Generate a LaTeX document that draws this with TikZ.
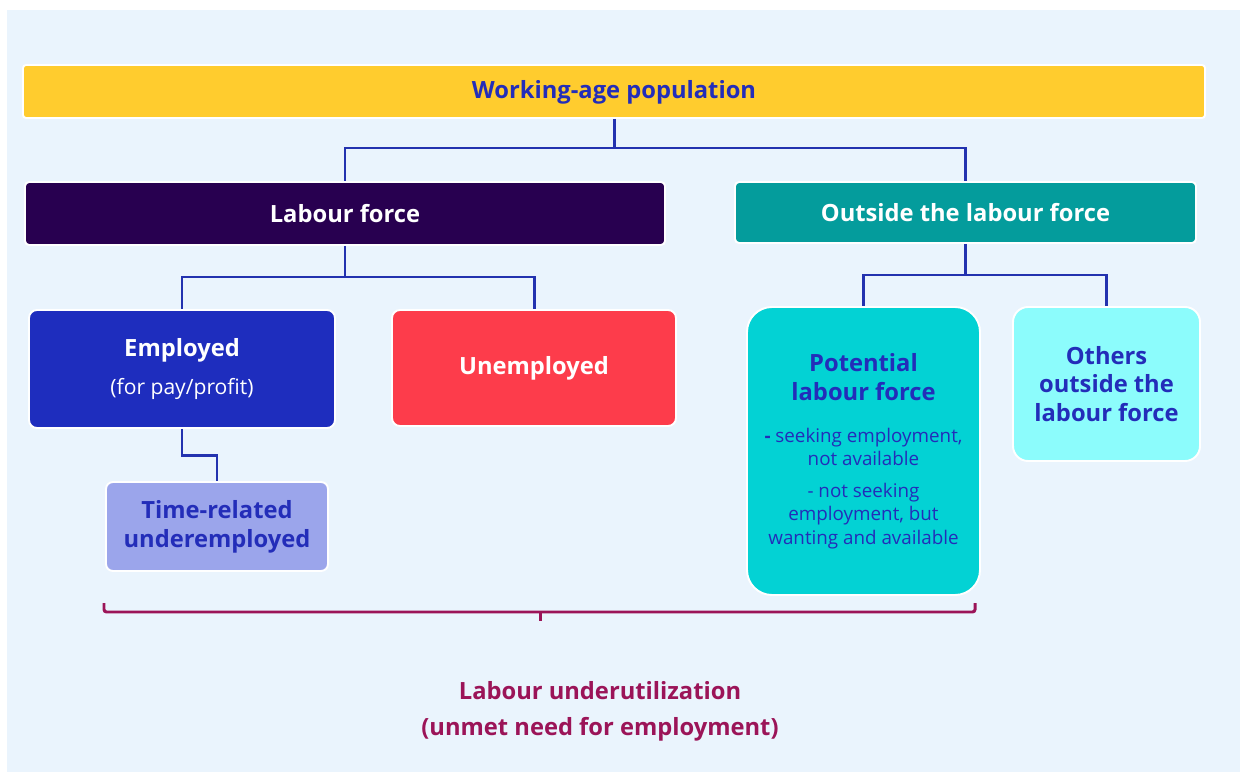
\documentclass[tikz,border=0pt]{standalone}
\usepackage{fontspec}
\setmainfont{Open Sans}
\usetikzlibrary{calc,positioning}
\definecolor{bgblue}{RGB}{234,244,253}
\definecolor{wapyellow}{RGB}{255,204,46}
\definecolor{lfpurple}{RGB}{40,0,80}
\definecolor{olfteal}{RGB}{4,156,156}
\definecolor{empblue}{RGB}{30,45,190}
\definecolor{unred}{RGB}{253,60,75}
\definecolor{plfcyan}{RGB}{3,210,212}
\definecolor{othcyan}{RGB}{140,252,252}
\definecolor{trulilac}{RGB}{155,165,235}
\definecolor{txtblue}{RGB}{35,45,185}
\definecolor{linkblue}{RGB}{35,50,175}
\definecolor{underred}{RGB}{155,20,88}
\def\boldtext{\fontsize{13.5}{16.4}\selectfont\bfseries}
\def\smalltext{\fontsize{10.7}{13.3}\selectfont}

\begin{document}
\begin{tikzpicture}[
	box/.style={draw=white, line width=1.1pt, align=center, inner sep=0pt},
	link/.style={draw=linkblue, line width=1.7pt},
	brace/.style={draw=underred, line width=1.7pt}
	]
			%%%%% START %%%%%
			
			\useasboundingbox (0, 0) rectangle (24.8, -15.48);
			\fill[bgblue] (0.14, -0.2) rectangle (24.8, -15.44);
			
			\node[box, fill=wapyellow, rounded corners=0.06cm, minimum width=23.64cm, minimum height=1.06cm, text=txtblue, font=\boldtext, text depth=0.1cm] (wap) at (12.28, -1.83) {Working-age population};
			
			\node[box, fill=lfpurple, rounded corners=0.08cm, minimum width=12.8cm, minimum height=1.26cm, text=white, font=\boldtext] (lf) at (6.9, -4.27) {Labour force};
			\node[box, fill=olfteal, rounded corners=0.08cm, minimum width=9.22cm, minimum height=1.22cm, text=white, font=\boldtext] (olf) at (19.31, -4.25) {Outside the labour force};
			
			\node[box, fill=empblue, rounded corners=0.16cm, minimum width=6.12cm, minimum height=2.36cm, text=white, font=\fontsize{12}{14.4}\selectfont] (emp) at (3.64, -7.38) {{\boldtext Employed}\\[7.1pt](for pay/profit)};
			\node[box, fill=unred, rounded corners=0.16cm, minimum width=5.68cm, minimum height=2.32cm, text=white, font=\boldtext] (unemp) at (10.68, -7.36) {Unemployed};
			
			\node[box, fill=plfcyan, rounded corners=0.5cm, minimum width=4.66cm, minimum height=5.76cm, text=txtblue, font=\smalltext] (plf) at (17.27, -9.02) {{\boldtext Potential}\\[3.1pt]{\boldtext labour force}\\[10.5pt]{\bfseries -} seeking employment,\\not available\\[4.8pt]- not seeking\\employment, but\\wanting and available};
			\node[box, fill=othcyan, rounded corners=0.3cm, minimum width=3.74cm, minimum height=3.08cm, text=txtblue, font=\boldtext] (oth) at (22.13, -7.68) {Others\\outside the\\labour force};
			
			\node[box, fill=trulilac, rounded corners=0.14cm, minimum width=4.44cm, minimum height=1.78cm, text=txtblue, font=\boldtext] (tru) at (4.34, -10.53) {Time-related\\underemployed};
			
			\coordinate (wapjoin) at (12.28, -2.96);
			\draw[link] (wap.south) -- (wapjoin) -| (lf.north);
			\draw[link] (wapjoin) -| (olf.north);
			
			\coordinate (lfjoin) at (6.9, -5.54);
			\draw[link] (lf.south) -- (lfjoin) -| (emp.north);
			\draw[link] (lfjoin) -| (unemp.north);
			
			\coordinate (olfjoin) at (19.31, -5.5);
			\draw[link] (olf.south) -- (olfjoin) -| (plf.north);
			\draw[link] (olfjoin) -| (oth.north);
			
			\draw[link] (emp.south) -- ++(0, -0.54) -| (tru.north);
			
			\coordinate (bl) at (2.08, -12.24);
			\coordinate (br) at (19.5, -12.24);
			\coordinate (bmid) at (10.8, -12.24);
			\draw[brace, rounded corners=0.05cm] ($(bl)+(0, 0.18)$) -- (bl) -- (br) -- ($(br)+(0, 0.18)$);
			\draw[brace] (bmid) -- ++(0, -0.18);
			
			\node[text=underred, font=\fontsize{13.5}{20.4}\selectfont\bfseries, align=center] (under) at (12.0, -14.22) {Labour underutilization\\(unmet need for employment)};
			
			%%%%% END %%%%%
\end{tikzpicture}
\end{document}
